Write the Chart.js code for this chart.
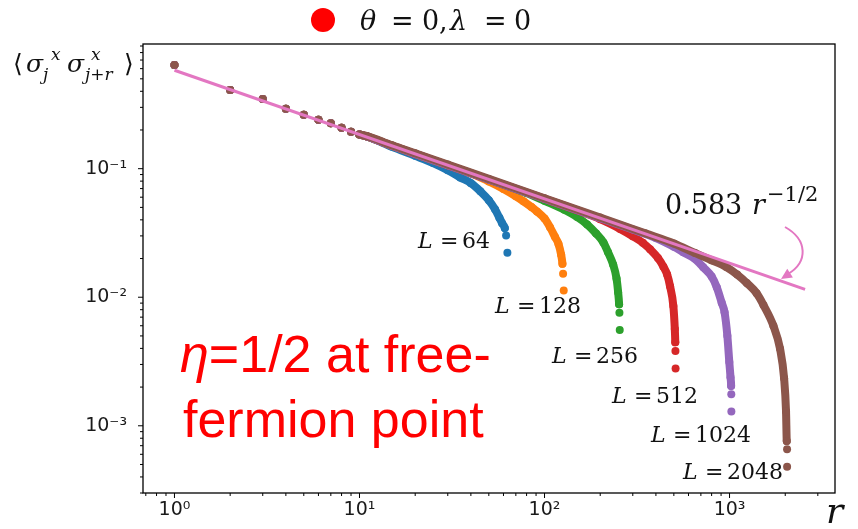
<!DOCTYPE html>
<html>
<head>
<meta charset="utf-8">
<script src="https://cdn.jsdelivr.net/npm/chart.js@4.4.1/dist/chart.umd.min.js"></script>
<style>
  html, body { margin: 0; padding: 0; background: #fff; }
  #box { width: 858px; height: 529px; position: relative; }
</style>
</head>
<body>
<div id="box"><canvas id="corrChart"></canvas></div>
<script>
// Valores comuns a todos os L (r = 1..10)
const headR = [1, 2, 3, 4, 5, 6, 7, 8, 9, 10];
const headC = [0.640, 0.409, 0.349, 0.292, 0.263, 0.240, 0.2255, 0.208, 0.194, 0.1845];

const sizes = [64, 128, 256, 512, 1024, 2048];

// Curvas de cada L a partir de r = 11 (os dois últimos pontos ficam soltos)
const r64 = [11, 15, 20, 25, 30, 35, 40, 45, 50, 54, 57, 59, 61, 62, 63];
const c64 = [0.178, 0.1479, 0.1259, 0.1106, 0.0974, 0.0855, 0.0772, 0.0667, 0.0569, 0.0484, 0.0416, 0.0376, 0.0345, 0.0302, 0.0222];

const r128 = [11, 15, 20, 30, 40, 50, 60, 70, 77, 85, 91, 100, 107, 114, 119, 123, 125, 126, 127];
const c128 = [0.178, 0.1505, 0.1304, 0.1064, 0.0920, 0.0796, 0.0695, 0.0610, 0.0557, 0.0503, 0.0465, 0.0409, 0.0351, 0.0294, 0.0260, 0.0214, 0.0182, 0.0152, 0.0113];

const r256 = [11, 15, 20, 30, 50, 80, 100, 128, 150, 170, 190, 208, 220, 235, 245, 250, 253, 254, 255];
const c256 = [0.178, 0.1505, 0.1304, 0.1064, 0.0824, 0.0646, 0.0563, 0.0480, 0.0421, 0.0368, 0.0313, 0.0267, 0.0225, 0.0179, 0.0140, 0.0109, 0.0088, 0.00758, 0.00555];

const r512 = [11, 15, 20, 30, 50, 100, 150, 200, 256, 300, 340, 372, 410, 439, 460, 477, 497, 506, 509, 510, 511];
const c512 = [0.178, 0.1505, 0.1304, 0.1064, 0.0824, 0.0583, 0.0474, 0.0405, 0.0340, 0.0298, 0.0265, 0.0236, 0.0202, 0.0173, 0.0150, 0.01215, 0.00853, 0.00565, 0.00446, 0.00382, 0.00279];

const r1024 = [11, 15, 20, 30, 50, 100, 200, 300, 400, 500, 562, 650, 721, 800, 853, 907, 940, 973, 997, 1012, 1020, 1022, 1023];
const c1024 = [0.178, 0.1505, 0.1304, 0.1064, 0.0824, 0.0583, 0.0412, 0.0336, 0.0289, 0.0247, 0.0224, 0.0199, 0.0171, 0.0145, 0.01195, 0.00905, 0.00763, 0.00502, 0.00313, 0.00239, 0.00204, 0.00176, 0.00129];

const r2048 = [11, 15, 20, 30, 50, 100, 200, 350, 500, 650, 800, 960, 1100, 1240, 1400, 1525, 1726, 1875, 1972, 2020, 2038, 2046, 2047];
const c2048 = [0.179, 0.152, 0.1318, 0.1076, 0.0833, 0.0589, 0.0417, 0.0314, 0.0262, 0.0221, 0.0194, 0.0172, 0.0150, 0.0129, 0.01075, 0.0087, 0.00599, 0.00397, 0.00234, 0.00129, 0.00076, 0.000658, 0.000481];

// Reta de ajuste 0.583 r^(-1/2)
const fitR = [1, 2560];
const fitC = [0.583, 0.0115];

const xTickValues = [1, 10, 100, 1000];
const xTickLabels = ['10⁰', '10¹', '10²', '10³'];
const yTickValues = [0.1, 0.01, 0.001];
const yTickLabels = ['10⁻¹', '10⁻²', '10⁻³'];

const seriesR = [r64, r128, r256, r512, r1024, r2048];
const seriesC = [c64, c128, c256, c512, c1024, c2048];
const colors = ['#1f77b4', '#ff7f0e', '#2ca02c', '#d62728', '#9467bd', '#8c564b'];
const tailDots = 2;

// Função para montar os ticks menores de uma escala log
function logTicks(scale) {
  const vals = [];
  [0.0001, 0.001, 0.01, 0.1, 1, 10, 100, 1000].forEach(d => {
    for (let m = 1; m < 10; m++) {
      const v = m * d;
      if (v >= scale.min && v <= scale.max) vals.push(v);
    }
  });
  scale.ticks = vals.map(v => ({ value: v }));
}

const datasets = [{
  label: 'fit',
  data: fitR.map((r, i) => ({ x: r, y: fitC[i] })),
  showLine: true,
  borderColor: '#e377c2',
  borderWidth: 3,
  pointRadius: 0,
  order: 0
}];

sizes.forEach((L, k) => {
  const r = headR.concat(seriesR[k]);
  const c = headC.concat(seriesC[k]);
  const n = r.length;
  datasets.push({
    label: 'L = ' + L,
    data: r.map((v, i) => ({ x: v, y: c[i] })),
    showLine: true,
    borderColor: colors[k],
    backgroundColor: colors[k],
    borderWidth: 8,
    borderCapStyle: 'round',
    borderJoinStyle: 'round',
    cubicInterpolationMode: 'monotone',
    pointRadius: 4,
    pointBorderWidth: 0,
    pointBackgroundColor: colors[k],
    order: sizes.length - k,
    segment: {
      borderColor: ctx => (ctx.p1DataIndex < headR.length || ctx.p1DataIndex >= n - tailDots) ? 'rgba(0,0,0,0)' : undefined
    }
  });
});

// Função para escrever texto com fonte específica
function txt(ctx, s, x, y, font, color) {
  ctx.font = font;
  ctx.fillStyle = color || '#111';
  ctx.fillText(s, x, y);
  return ctx.measureText(s).width;
}

const decor = {
  id: 'decor',
  afterDraw(chart) {
    const ctx = chart.ctx;
    const a = chart.chartArea;
    const sx = chart.scales.x, sy = chart.scales.y;
    ctx.save();
    ctx.textBaseline = 'alphabetic';
    ctx.textAlign = 'left';

    // moldura
    ctx.strokeStyle = '#000';
    ctx.lineWidth = 1.3;
    ctx.strokeRect(a.left, a.top, a.right - a.left, a.bottom - a.top);

    // ticks maiores e menores
    ctx.beginPath();
    sx.ticks.forEach(t => {
      const px = sx.getPixelForValue(t.value);
      const len = xTickValues.includes(t.value) ? 5 : 3;
      ctx.moveTo(px, a.bottom);
      ctx.lineTo(px, a.bottom + len);
    });
    sy.ticks.forEach(t => {
      const py = sy.getPixelForValue(t.value);
      const len = yTickValues.includes(t.value) ? 5 : 3;
      ctx.moveTo(a.left, py);
      ctx.lineTo(a.left - len, py);
    });
    ctx.lineWidth = 1;
    ctx.stroke();

    // título com marcador vermelho
    ctx.fillStyle = '#ff0000';
    ctx.beginPath();
    ctx.arc(323, 20, 12, 0, Math.PI * 2);
    ctx.fill();
    const tf = '27px "DejaVu Serif"', tfi = 'italic 27px "DejaVu Serif"';
    txt(ctx, 'θ', 360, 30, tfi);
    txt(ctx, '=', 391, 30, tf);
    txt(ctx, '0', 422, 30, tf);
    txt(ctx, ',', 439, 30, tf);
    txt(ctx, 'λ', 450, 30, tfi);
    txt(ctx, '=', 484, 30, tf);
    txt(ctx, '0', 514, 30, tf);

    // rótulo do eixo y
    const big = '25px "DejaVu Serif"', bigI = 'italic 25px "DejaVu Serif"', sm = 'italic 17px "DejaVu Serif"';
    txt(ctx, '⟨', 13, 72, big);
    txt(ctx, 'σ', 26, 72, bigI);
    txt(ctx, 'x', 51, 60, sm);
    txt(ctx, 'j', 43, 80, sm);
    txt(ctx, 'σ', 67, 72, bigI);
    txt(ctx, 'x', 91, 60, sm);
    txt(ctx, 'j+r', 85, 80, sm);
    txt(ctx, '⟩', 124, 72, big);

    // rótulo do eixo x
    txt(ctx, 'r', 826, 523, 'italic 36px "DejaVu Serif"');

    // rótulos de L
    const lpos = [[418, 248], [495, 313], [552, 363], [612, 403], [651, 442], [683, 479]];
    sizes.forEach((L, k) => {
      const [x0, y0] = lpos[k];
      txt(ctx, 'L', x0, y0, 'italic 22px "DejaVu Serif"');
      txt(ctx, '=', x0 + 22, y0, '22px "DejaVu Serif"');
      txt(ctx, String(L), x0 + 44, y0, '22px "DejaVu Serif"');
    });

    // texto da reta de ajuste
    txt(ctx, '0.583', 665, 214, '27px "DejaVu Serif"');
    txt(ctx, 'r', 752, 214, 'italic 27px "DejaVu Serif"');
    txt(ctx, '−1/2', 767, 201, '21px "DejaVu Serif"');

    // seta curva
    ctx.strokeStyle = '#e377c2';
    ctx.fillStyle = '#e377c2';
    ctx.lineWidth = 2;
    ctx.beginPath();
    ctx.moveTo(785, 227);
    ctx.bezierCurveTo(808, 240, 808, 262, 788, 274);
    ctx.stroke();
    const tipX = 781, tipY = 279, ang = Math.atan2(279 - 270, 781 - 795);
    ctx.beginPath();
    ctx.moveTo(tipX, tipY);
    ctx.lineTo(tipX - 12 * Math.cos(ang - 0.45), tipY - 12 * Math.sin(ang - 0.45));
    ctx.lineTo(tipX - 12 * Math.cos(ang + 0.45), tipY - 12 * Math.sin(ang + 0.45));
    ctx.closePath();
    ctx.fill();

    // texto vermelho
    const rf = '52px "Liberation Sans"';
    const w = txt(ctx, 'η', 180, 372, 'italic 52px "Liberation Sans"', '#ff0000');
    txt(ctx, '=1/2 at free-', 180 + w, 372, rf, '#ff0000');
    txt(ctx, 'fermion point', 183, 437, rf, '#ff0000');

    ctx.restore();
  }
};

Chart.defaults.font.family = '"DejaVu Sans"';

const ctxCorr = document.getElementById('corrChart').getContext('2d');
new Chart(ctxCorr, {
  type: 'scatter',
  data: { datasets: datasets },
  plugins: [decor],
  options: {
    responsive: true,
    maintainAspectRatio: false,
    animation: false,
    events: [],
    devicePixelRatio: 1,
    layout: { padding: { top: 44, right: 23, left: 0, bottom: 0 } },
    plugins: { legend: { display: false }, tooltip: { enabled: false } },
    scales: {
      x: {
        type: 'logarithmic',
        min: 0.676,
        max: 3715,
        grid: { display: false, drawTicks: false },
        border: { display: false },
        afterBuildTicks: logTicks,
        afterFit: scale => { scale.height = 36; },
        ticks: {
          autoSkip: false,
          maxRotation: 0,
          padding: 6,
          color: '#1a1a1a',
          font: { size: 19 },
          callback: value => {
            const i = xTickValues.indexOf(value);
            return i >= 0 ? xTickLabels[i] : '';
          }
        }
      },
      y: {
        type: 'logarithmic',
        min: 0.000338,
        max: 0.933,
        grid: { display: false, drawTicks: false },
        border: { display: false },
        afterBuildTicks: logTicks,
        afterFit: scale => { scale.width = 143; },
        ticks: {
          autoSkip: false,
          padding: 16,
          color: '#1a1a1a',
          font: { size: 19 },
          callback: value => {
            const i = yTickValues.indexOf(value);
            return i >= 0 ? yTickLabels[i] : '';
          }
        }
      }
    }
  }
});
</script>
</body>
</html>
